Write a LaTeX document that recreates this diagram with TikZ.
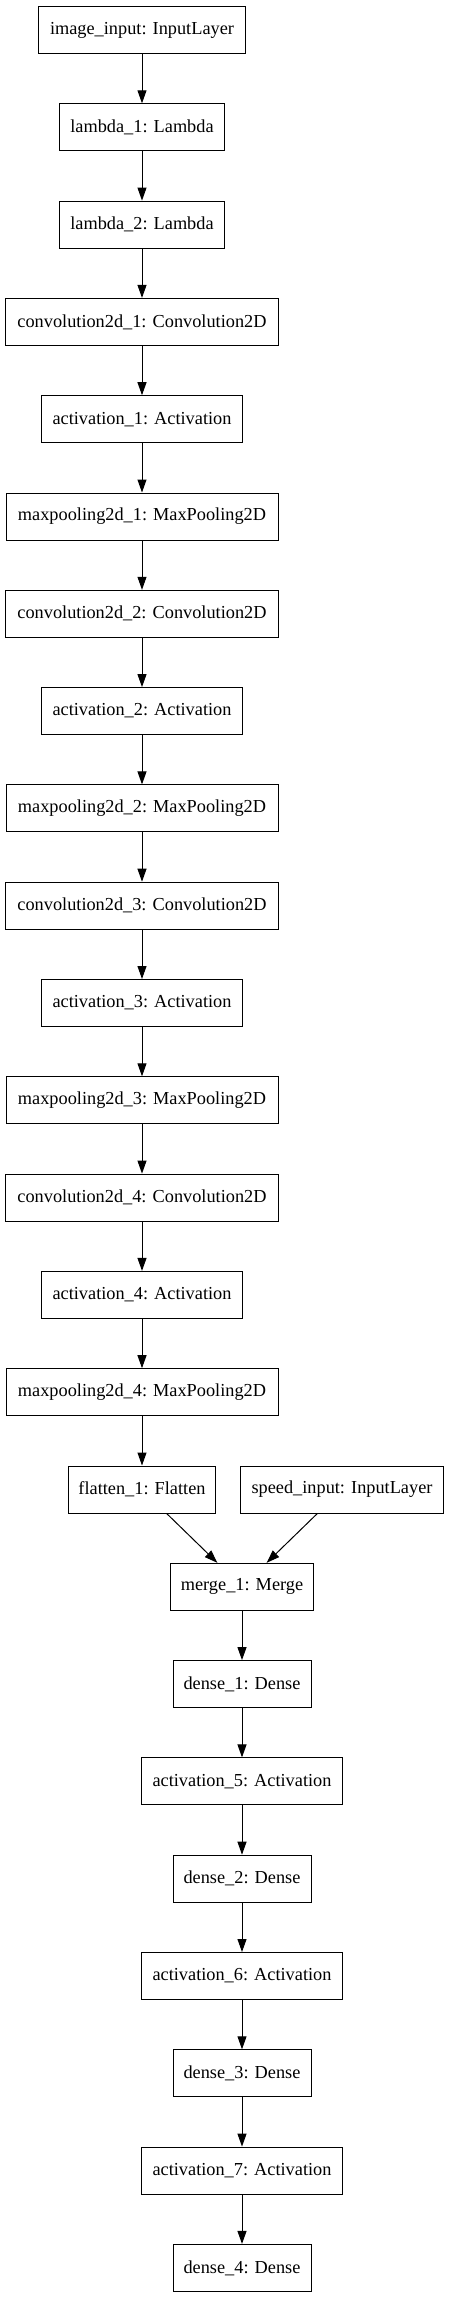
\documentclass[tikz,border=0pt]{standalone}
\usepackage{fontspec}
\setmainfont{Liberation Serif}
\usetikzlibrary{arrows.meta}
\begin{document}
\begin{tikzpicture}[x=1pt,y=-1pt,
  layer/.style={draw,line width=1pt,rectangle,minimum height=47pt,inner sep=0pt,font=\fontsize{18.3}{21}\selectfont},
  conn/.style={line width=1pt,-{Triangle[length=13pt,width=9pt]}}]
\useasboundingbox[fill=white] (0,0) rectangle (450,2299);
\def\py{97.3}
\node[layer,minimum width=207pt] (in) at (142,30) {image\_input: InputLayer};
\node[layer,minimum width=165pt] (l1) at (142,30+1*\py) {lambda\_1: Lambda};
\node[layer,minimum width=165pt] (l2) at (142,30+2*\py) {lambda\_2: Lambda};
\node[layer,minimum width=273pt] (c1) at (142,30+3*\py) {convolution2d\_1: Convolution2D};
\node[layer,minimum width=201pt] (a1) at (142,30+4*\py) {activation\_1: Activation};
\node[layer,minimum width=272pt] (m1) at (142,30+5*\py) {maxpooling2d\_1: MaxPooling2D};
\node[layer,minimum width=273pt] (c2) at (142,30+6*\py) {convolution2d\_2: Convolution2D};
\node[layer,minimum width=201pt] (a2) at (142,30+7*\py) {activation\_2: Activation};
\node[layer,minimum width=272pt] (m2) at (142,30+8*\py) {maxpooling2d\_2: MaxPooling2D};
\node[layer,minimum width=273pt] (c3) at (142,30+9*\py) {convolution2d\_3: Convolution2D};
\node[layer,minimum width=201pt] (a3) at (142,30+10*\py) {activation\_3: Activation};
\node[layer,minimum width=272pt] (m3) at (142,30+11*\py) {maxpooling2d\_3: MaxPooling2D};
\node[layer,minimum width=273pt] (c4) at (142,30+12*\py) {convolution2d\_4: Convolution2D};
\node[layer,minimum width=201pt] (a4) at (142,30+13*\py) {activation\_4: Activation};
\node[layer,minimum width=272pt] (m4) at (142,30+14*\py) {maxpooling2d\_4: MaxPooling2D};
\node[layer,minimum width=147pt] (fl) at (142,30+15*\py) {flatten\_1: Flatten};
\node[layer,minimum width=203pt] (sp) at (342,30+15*\py) {speed\_input: InputLayer};
\node[layer,minimum width=143pt] (mg) at (242,30+16*\py) {merge\_1: Merge};
\node[layer,minimum width=138pt] (d1) at (242,30+17*\py) {dense\_1: Dense};
\node[layer,minimum width=201pt] (a5) at (242,30+18*\py) {activation\_5: Activation};
\node[layer,minimum width=138pt] (d2) at (242,30+19*\py) {dense\_2: Dense};
\node[layer,minimum width=201pt] (a6) at (242,30+20*\py) {activation\_6: Activation};
\node[layer,minimum width=138pt] (d3) at (242,30+21*\py) {dense\_3: Dense};
\node[layer,minimum width=201pt] (a7) at (242,30+22*\py) {activation\_7: Activation};
\node[layer,minimum width=138pt] (d4) at (242,30+23*\py) {dense\_4: Dense};
\foreach \a/\b in {in/l1,l1/l2,l2/c1,c1/a1,a1/m1,m1/c2,c2/a2,a2/m2,m2/c3,c3/a3,a3/m3,m3/c4,c4/a4,a4/m4,m4/fl,fl/mg,sp/mg,mg/d1,d1/a5,a5/d2,d2/a6,a6/d3,d3/a7,a7/d4}
  \draw[conn] (\a) -- (\b);
\end{tikzpicture}
\end{document}
